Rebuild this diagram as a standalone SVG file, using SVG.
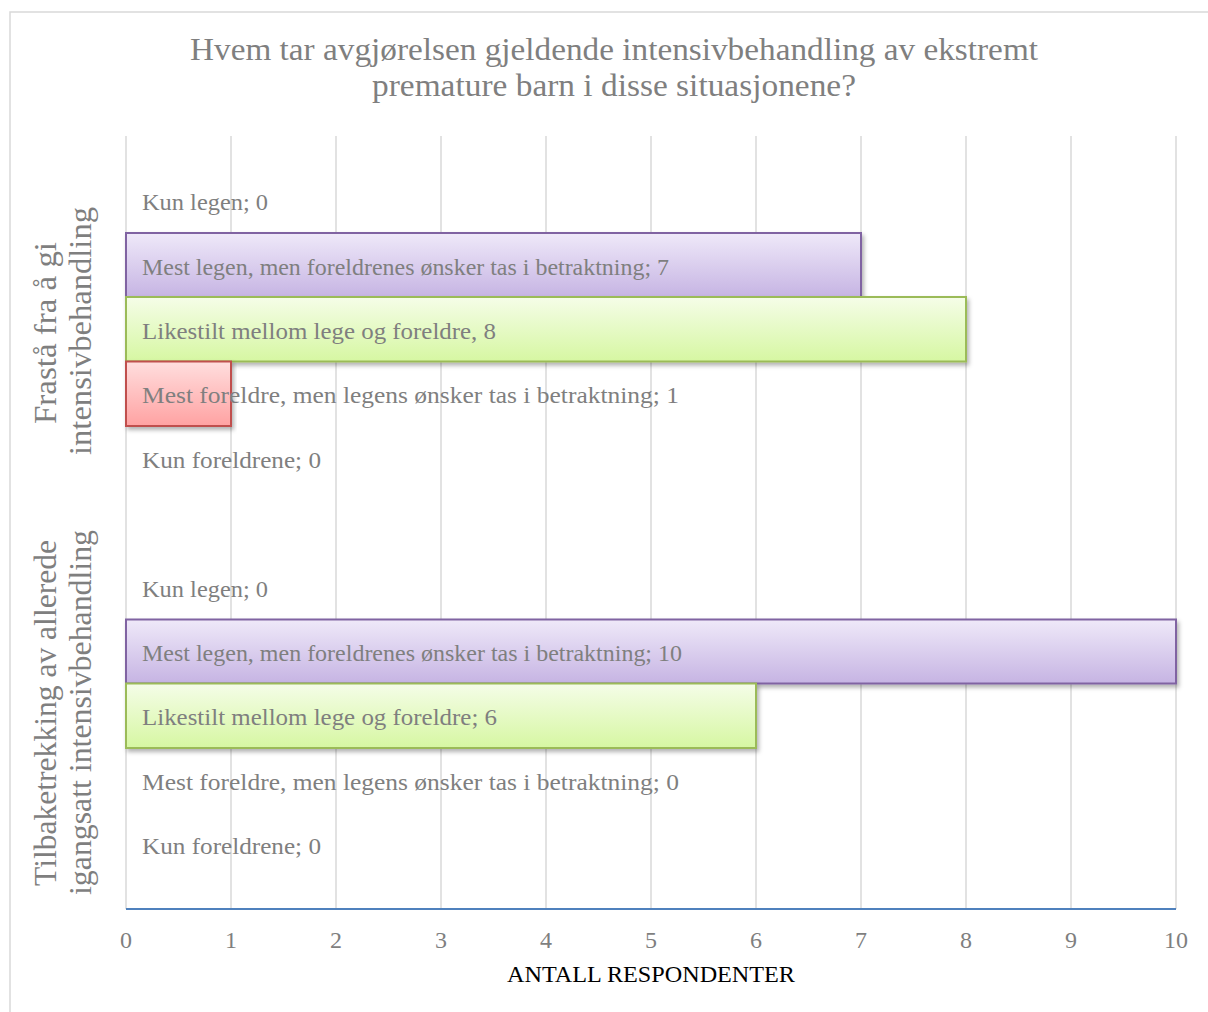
<svg xmlns="http://www.w3.org/2000/svg" width="1208" height="1012" viewBox="0 0 1208 1012">
  <style>
    .grid { stroke: #d9d9d9; stroke-width: 1.5; }
    .title { font-family: "Liberation Serif", "Times New Roman", serif; font-size: 32px; fill: #7f7f7f; text-anchor: middle; }
    .cat { font-family: "Liberation Serif", "Times New Roman", serif; font-size: 32px; fill: #7f7f7f; text-anchor: middle; }
    .lbl { font-family: "Liberation Serif", "Times New Roman", serif; font-size: 24px; fill: #7f7f7f; }
    .tick { font-family: "Liberation Serif", "Times New Roman", serif; font-size: 24px; fill: #7f7f7f; text-anchor: middle; }
    .axt { font-family: "Liberation Serif", "Times New Roman", serif; font-size: 24px; fill: #000000; text-anchor: middle; }
    .purple { fill: url(#gPurple); stroke: #8064a2; stroke-width: 2; filter: url(#shadow); }
    .green { fill: url(#gGreen); stroke: #9bbb59; stroke-width: 2; filter: url(#shadow); }
    .red { fill: url(#gRed); stroke: #c0504d; stroke-width: 2; filter: url(#shadow); }
  </style>
  <defs>
    <linearGradient id="gPurple" x1="0" y1="0" x2="0" y2="1">
      <stop offset="0" stop-color="#efe9f9"/>
      <stop offset="1" stop-color="#c6b4e3"/>
    </linearGradient>
    <linearGradient id="gGreen" x1="0" y1="0" x2="0" y2="1">
      <stop offset="0" stop-color="#f5fde8"/>
      <stop offset="1" stop-color="#d6f7a2"/>
    </linearGradient>
    <linearGradient id="gRed" x1="0" y1="0" x2="0" y2="1">
      <stop offset="0" stop-color="#ffdede"/>
      <stop offset="1" stop-color="#ffa2a2"/>
    </linearGradient>
    <filter id="shadow" x="-5%" y="-20%" width="110%" height="150%">
      <feDropShadow dx="2" dy="3" stdDeviation="2" flood-color="#000000" flood-opacity="0.3"/>
    </filter>
  </defs>

  <rect x="0" y="0" width="1208" height="1012" fill="#ffffff"/>
  <rect x="10" y="12" width="1220" height="1020" fill="none" stroke="#d9d9d9" stroke-width="1.5"/>

  <g id="title">
    <text class="title" x="614" y="60" textLength="848" lengthAdjust="spacingAndGlyphs">Hvem tar avgjørelsen gjeldende intensivbehandling av ekstremt</text>
    <text class="title" x="614" y="96" textLength="484" lengthAdjust="spacingAndGlyphs">premature barn i disse situasjonene?</text>
  </g>

  <g id="gridlines">
    <line class="grid" x1="126" y1="136" x2="126" y2="909"/>
    <line class="grid" x1="231" y1="136" x2="231" y2="909"/>
    <line class="grid" x1="336" y1="136" x2="336" y2="909"/>
    <line class="grid" x1="441" y1="136" x2="441" y2="909"/>
    <line class="grid" x1="546" y1="136" x2="546" y2="909"/>
    <line class="grid" x1="651" y1="136" x2="651" y2="909"/>
    <line class="grid" x1="756" y1="136" x2="756" y2="909"/>
    <line class="grid" x1="861" y1="136" x2="861" y2="909"/>
    <line class="grid" x1="966" y1="136" x2="966" y2="909"/>
    <line class="grid" x1="1071" y1="136" x2="1071" y2="909"/>
    <line class="grid" x1="1176" y1="136" x2="1176" y2="909"/>
  </g>

  <g id="bars">
    <g id="bar-frasta-mest-legen"><rect class="purple" x="126" y="233" width="735" height="64"/></g>
    <g id="bar-frasta-likestilt"><rect class="green" x="126" y="297" width="840" height="64.5"/></g>
    <g id="bar-frasta-mest-foreldre"><rect class="red" x="126" y="361.5" width="105" height="64.5"/></g>
    <g id="bar-tilbake-mest-legen"><rect class="purple" x="126" y="619.5" width="1050" height="64"/></g>
    <g id="bar-tilbake-likestilt"><rect class="green" x="126" y="683.5" width="630" height="64.5"/></g>
  </g>

  <g id="axis">
    <line x1="126" y1="909" x2="1176" y2="909" stroke="#4f81bd" stroke-width="2"/>
    <text class="tick" x="126" y="948">0</text>
    <text class="tick" x="231" y="948">1</text>
    <text class="tick" x="336" y="948">2</text>
    <text class="tick" x="441" y="948">3</text>
    <text class="tick" x="546" y="948">4</text>
    <text class="tick" x="651" y="948">5</text>
    <text class="tick" x="756" y="948">6</text>
    <text class="tick" x="861" y="948">7</text>
    <text class="tick" x="966" y="948">8</text>
    <text class="tick" x="1071" y="948">9</text>
    <text class="tick" x="1176" y="948">10</text>
    <text class="axt" x="651" y="982" textLength="288" lengthAdjust="spacingAndGlyphs">ANTALL RESPONDENTER</text>
  </g>

  <g id="category-labels">
    <g id="cat-frasta">
      <text class="cat" transform="rotate(-90)" x="-333" y="56" textLength="182" lengthAdjust="spacingAndGlyphs">Frastå fra å gi</text>
      <text class="cat" transform="rotate(-90)" x="-331" y="91" textLength="248" lengthAdjust="spacingAndGlyphs">intensivbehandling</text>
    </g>
    <g id="cat-tilbake">
      <text class="cat" transform="rotate(-90)" x="-713" y="56" textLength="346" lengthAdjust="spacingAndGlyphs">Tilbaketrekking av allerede</text>
      <text class="cat" transform="rotate(-90)" x="-712.5" y="91" textLength="365" lengthAdjust="spacingAndGlyphs">igangsatt intensivbehandling</text>
    </g>
  </g>

  <g id="data-labels">
    <text class="lbl" x="142" y="210" textLength="126" lengthAdjust="spacingAndGlyphs">Kun legen; 0</text>
    <text class="lbl" x="142" y="274.5" textLength="527" lengthAdjust="spacingAndGlyphs">Mest legen, men foreldrenes ønsker tas i betraktning; 7</text>
    <text class="lbl" x="142" y="339" textLength="354" lengthAdjust="spacingAndGlyphs">Likestilt mellom lege og foreldre, 8</text>
    <text class="lbl" x="142" y="403" textLength="537" lengthAdjust="spacingAndGlyphs">Mest foreldre, men legens ønsker tas i betraktning; 1</text>
    <text class="lbl" x="142" y="467.5" textLength="179" lengthAdjust="spacingAndGlyphs">Kun foreldrene; 0</text>
    <text class="lbl" x="142" y="596.5" textLength="126" lengthAdjust="spacingAndGlyphs">Kun legen; 0</text>
    <text class="lbl" x="142" y="661" textLength="540" lengthAdjust="spacingAndGlyphs">Mest legen, men foreldrenes ønsker tas i betraktning; 10</text>
    <text class="lbl" x="142" y="725" textLength="355" lengthAdjust="spacingAndGlyphs">Likestilt mellom lege og foreldre; 6</text>
    <text class="lbl" x="142" y="789.5" textLength="537" lengthAdjust="spacingAndGlyphs">Mest foreldre, men legens ønsker tas i betraktning; 0</text>
    <text class="lbl" x="142" y="854" textLength="179" lengthAdjust="spacingAndGlyphs">Kun foreldrene; 0</text>
  </g>
</svg>
